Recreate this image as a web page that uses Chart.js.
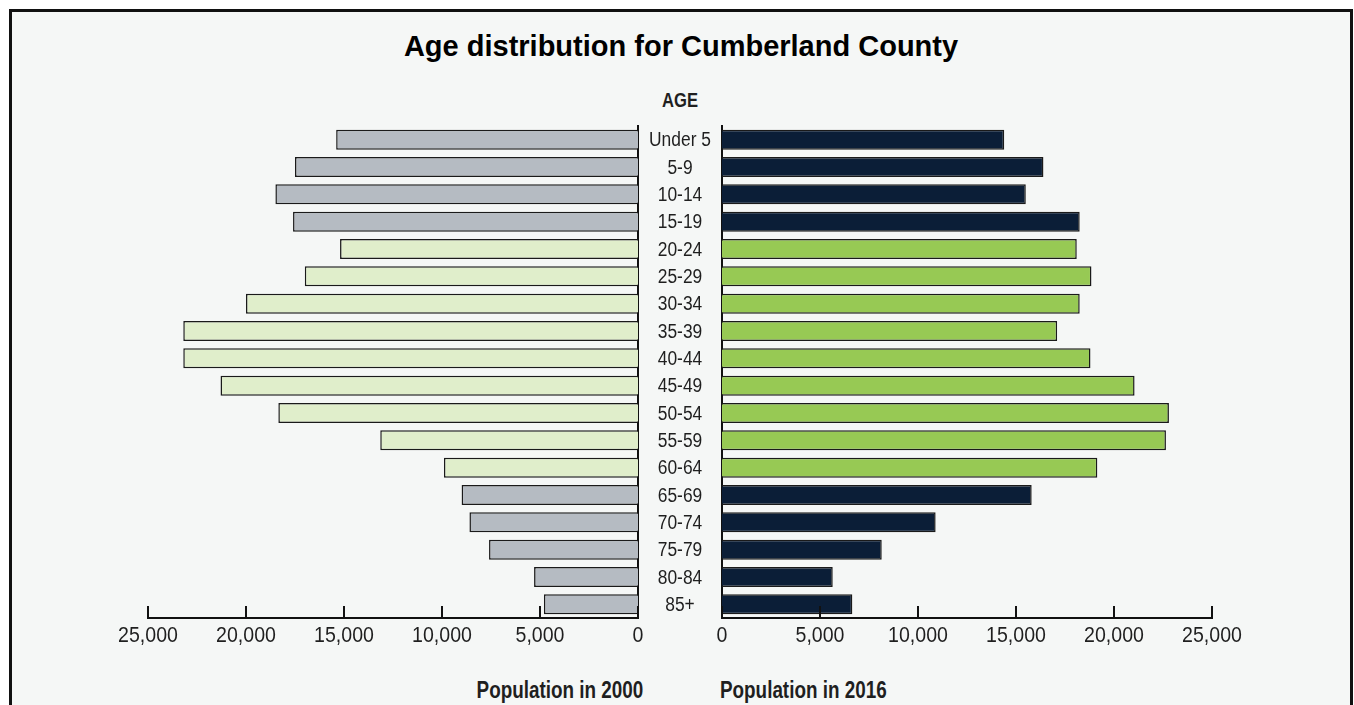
<!DOCTYPE html>
<html>
<head>
<meta charset="utf-8">
<title>Age distribution for Cumberland County</title>
<script src="https://cdn.jsdelivr.net/npm/chart.js@4.4.1/dist/chart.umd.min.js"></script>
<style>
  html, body { margin: 0; padding: 0; background: #ffffff; width: 1354px; height: 705px; overflow: hidden; }
  .frame {
    position: absolute; left: 9px; top: 9px; width: 1338px; height: 720px;
    border: 3px solid #111; background: #f5f7f6;
  }
  .txt { position: absolute; color: #1f1f1f; white-space: nowrap; line-height: 1; }
  .title { left: 0; width: 1362px; top: 30px; text-align: center; line-height: normal;
    font: bold 29px "Liberation Sans", Arial, sans-serif; color: #000; }
  .narrow { font-family: "Liberation Sans", Arial, sans-serif; font-weight: bold; }
  .age { left: 630px; width: 100px; top: 89px; text-align: center; font-size: 21px;
    transform: scaleX(0.79); transform-origin: 50% 50%; }
  .pop2000 { right: 711px; top: 679px; font-size: 23px; transform: scaleX(0.82); transform-origin: 100% 50%; }
  .pop2016 { left: 720px; top: 679px; font-size: 23px; transform: scaleX(0.82); transform-origin: 0 50%; }
  .box { position: absolute; }
  #left-box { left: 108px; top: 106px; width: 614px; height: 552px; }
  #right-box { left: 712px; top: 106px; width: 540px; height: 552px; }
</style>
</head>
<body>
<div class="frame"></div>
<div class="txt title">Age distribution for Cumberland County</div>
<div class="txt narrow age">AGE</div>
<div class="box" id="left-box"><canvas id="chart-2000"></canvas></div>
<div class="box" id="right-box"><canvas id="chart-2016"></canvas></div>
<div class="txt narrow pop2000">Population in 2000</div>
<div class="txt narrow pop2016">Population in 2016</div>
<script>
'use strict';

const AGE_GROUPS = ['Under 5', '5-9', '10-14', '15-19', '20-24', '25-29', '30-34', '35-39', '40-44',
  '45-49', '50-54', '55-59', '60-64', '65-69', '70-74', '75-79', '80-84', '85+'];
const POP_2000 = [15400, 17500, 18500, 17600, 15200, 17000, 20000, 23200, 23200,
  21300, 18350, 13150, 9900, 9000, 8600, 7600, 5300, 4800];
const POP_2016 = [14400, 16400, 15500, 18250, 18100, 18850, 18250, 17100, 18800,
  21050, 22800, 22650, 19150, 15800, 10900, 8150, 5650, 6650];
// 20-64 highlighted in green
const WORKING_AGE = [0, 0, 0, 0, 1, 1, 1, 1, 1, 1, 1, 1, 1, 0, 0, 0, 0, 0];
const X_MAX = 25000;
const X_STEP = 5000;

const FONT = '"Liberation Sans", Arial, sans-serif';
const INK = '#1f1f1f';

function fmt(v) {
  return Number(v).toLocaleString('en-US');
}

// no condensed face installed: squeeze regular text horizontally
function narrowText(ctx, text, x, y, squeeze) {
  ctx.save();
  ctx.translate(x, y);
  ctx.scale(squeeze, 1);
  ctx.fillText(text, 0, 0);
  ctx.restore();
}

// ticks point up into the plot and labels are condensed, so draw them by hand
const xAxisMarks = {
  id: 'xAxisMarks',
  afterDraw(chart) {
    const x = chart.scales.x;
    const ctx = chart.ctx;
    ctx.save();
    ctx.strokeStyle = '#111';
    ctx.lineWidth = 2;
    ctx.fillStyle = INK;
    ctx.font = '22px ' + FONT;
    ctx.textAlign = 'center';
    ctx.textBaseline = 'middle';
    x.ticks.forEach(t => {
      const px = Math.round(x.getPixelForValue(t.value));
      ctx.beginPath();
      ctx.moveTo(px, x.top + 1);
      ctx.lineTo(px, x.top - 12);
      ctx.stroke();
      narrowText(ctx, fmt(t.value), px, x.top + 18, 0.89);
    });
    ctx.restore();
  },
};

// age labels sit in the gap between the two panels
const ageLabels = {
  id: 'ageLabels',
  afterDraw(chart) {
    const y = chart.scales.y;
    const ctx = chart.ctx;
    const cx = (chart.chartArea.right + chart.width) / 2;
    ctx.save();
    ctx.fillStyle = INK;
    ctx.font = '20px ' + FONT;
    ctx.textAlign = 'center';
    ctx.textBaseline = 'middle';
    AGE_GROUPS.forEach((lab, i) => {
      narrowText(ctx, lab, cx, y.getPixelForValue(i) + 1, 0.87);
    });
    ctx.restore();
  },
};

function makeChart(id, values, colors, left) {
  const ctx = document.getElementById(id).getContext('2d');
  return new Chart(ctx, {
    type: 'bar',
    data: {
      labels: AGE_GROUPS,
      datasets: [{
        data: values,
        backgroundColor: colors,
        borderColor: '#1a1a1a',
        borderWidth: 1.5,
        barPercentage: 0.73,
        categoryPercentage: 1,
      }],
    },
    options: {
      indexAxis: 'y',
      responsive: true,
      maintainAspectRatio: false,
      animation: false,
      layout: { padding: left ? { left: 40, right: 0, top: 20, bottom: 0 } : { left: 10, right: 40, top: 20, bottom: 0 } },
      plugins: { legend: { display: false }, tooltip: { enabled: false } },
      scales: {
        x: {
          reverse: left,
          min: 0,
          max: X_MAX,
          afterFit: s => { s.height = 40; },
          ticks: { stepSize: X_STEP, display: false },
          grid: { display: false, drawTicks: false },
          border: { display: true, color: '#111', width: 2 },
        },
        y: {
          position: left ? 'right' : 'left',
          afterFit: s => { s.width = left ? 84 : 0; },
          ticks: { display: false },
          grid: { display: false, drawTicks: false },
          border: { display: true, color: '#111', width: 2 },
        },
      },
    },
    plugins: left ? [xAxisMarks, ageLabels] : [xAxisMarks],
  });
}

const colors2000 = WORKING_AGE.map(w => (w ? '#e0eecb' : '#b5bbc2'));
const colors2016 = WORKING_AGE.map(w => (w ? '#97c954' : '#0b1e37'));

makeChart('chart-2000', POP_2000, colors2000, true);
makeChart('chart-2016', POP_2016, colors2016, false);
</script>
</body>
</html>
